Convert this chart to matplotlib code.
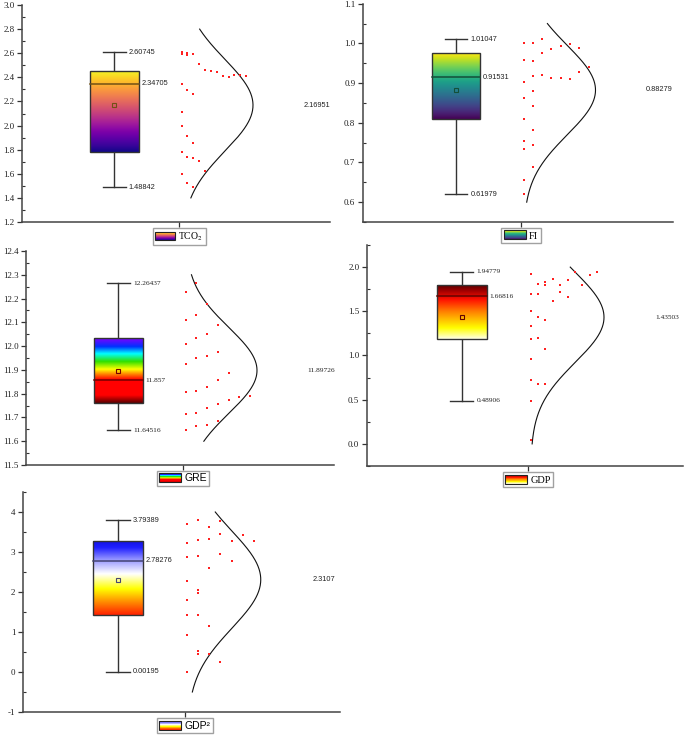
import numpy as np
import matplotlib
matplotlib.use('Agg')
import matplotlib.pyplot as plt
import matplotlib.colors as mcolors
from matplotlib.patches import Rectangle
from matplotlib.legend_handler import HandlerBase
from matplotlib.ticker import MultipleLocator, AutoMinorLocator, FormatStrFormatter

# valores em ordem dos dados (a ordem dentro de cada faixa define a coluna do ponto)
tco2_vals = [2.60745, 2.605,
             2.591, 2.585, 2.594, 2.513, 2.461, 2.455, 2.441, 2.408, 2.405, 2.422, 2.417, 2.414,
             2.345, 2.298, 2.265, 2.112, 1.994, 1.916, 1.853,
             1.783, 1.742, 1.734, 1.703, 1.626, 1.595, 1.526, 1.48842]
fi_vals = [1.002, 1.001, 1.01047,
           0.957, 0.955, 0.975, 0.985, 0.993, 0.998, 0.989,
           0.903, 0.918, 0.920, 0.914, 0.913, 0.911, 0.929, 0.941,
           0.863, 0.881, 0.809, 0.842, 0.755, 0.782, 0.733, 0.745, 0.656, 0.688, 0.61979]
gre_vals = [11.64516, 11.664, 11.669, 11.686,
            11.716, 11.718, 11.739, 11.757, 11.774, 11.784, 11.792,
            11.808, 11.811, 11.830, 11.857, 11.889,
            11.923, 11.949, 11.960, 11.974,
            12.009, 12.035, 12.049, 12.088,
            12.110, 12.130, 12.177, 12.228, 12.26437]
gdp_vals = [1.924, 1.811, 1.826, 1.860, 1.803, 1.853, 1.940, 1.803, 1.905, 1.94779,
            1.694, 1.694, 1.792, 1.611, 1.716, 1.664,
            1.505, 1.433, 1.402, 1.338, 1.187, 1.195, 1.074, 0.960,
            0.722, 0.673, 0.677, 0.48906, 0.042]
gdp2_vals = [3.700, 3.79389, 3.624, 3.783,
             3.215, 3.290, 3.332, 3.457, 3.265, 3.432, 3.265,
             2.881, 2.898, 2.598, 2.948, 2.781,
             2.280, 2.047, 1.788, 1.963,
             1.421, 1.437, 1.162, 0.928, 0.536,
             0.00195, 0.455, 0.450, 0.244]

# estatisticas da caixa: q1, q3, mediana, media, minimo, maximo
tco2_stats = [1.783, 2.455, 2.34705, 2.16951, 1.48842, 2.60745]
fi_stats = [0.809, 0.975, 0.91531, 0.88279, 0.61979, 1.01047]
gre_stats = [11.760, 12.033, 11.857, 11.89726, 11.64516, 12.26437]
gdp_stats = [1.183, 1.803, 1.66816, 1.43503, 0.48906, 1.94779]
gdp2_stats = [1.421, 3.282, 2.78276, 2.3107, 0.00195, 3.79389]

# faixas usadas para espalhar os pontos: inicio, largura, fim
tco2_bins = [1.4, 0.2, 2.8]
fi_bins = [0.6, 0.05, 1.05]
gre_bins = [11.6, 0.1, 12.3]
gdp_bins = [0.0, 0.2, 2.0]
gdp2_bins = [-0.5, 0.5, 4.0]

SERIF = 'Liberation Serif'
SANS = 'Liberation Sans'
W_PX, H_PX = 685, 736


def mapas_de_cor():
    plasma = plt.get_cmap('plasma')
    viridis = plt.get_cmap('viridis')
    arco = mcolors.LinearSegmentedColormap.from_list('arco', [
        (0.0, '#5a0000'), (0.12, '#ff0000'), (0.36, '#ff0000'), (0.45, '#ff8c00'),
        (0.52, '#ffff00'), (0.64, '#30e000'), (0.76, '#00ffff'), (0.87, '#0030ff'),
        (1.0, '#8000ff')])
    quente = mcolors.LinearSegmentedColormap.from_list('quente', [
        (0.0, '#ffffe8'), (0.2, '#ffff00'), (0.5, '#ff8000'), (0.72, '#ff1000'),
        (0.88, '#a00000'), (1.0, '#500000')])
    frio = mcolors.LinearSegmentedColormap.from_list('frio', [
        (0.0, '#ff2000'), (0.18, '#ff9000'), (0.35, '#ffff00'), (0.55, '#ffffff'),
        (0.75, '#9090ff'), (0.9, '#2020ff'), (1.0, '#1010e0')])
    return plasma, viridis, arco, quente, frio


class GradientHandler(HandlerBase):
    def __init__(self, cmap):
        super().__init__()
        self.cmap = cmap

    def create_artists(self, legend, orig_handle, xdescent, ydescent, width, height, fontsize, trans):
        arts = []
        n = 24
        for i in range(n):
            arts.append(Rectangle((-xdescent, -ydescent + height * i / n), width, height / n * 1.05,
                                  facecolor=self.cmap((i + 0.5) / n), edgecolor='none', transform=trans))
        arts.append(Rectangle((-xdescent, -ydescent), width, height, facecolor='none',
                              edgecolor='#222222', lw=0.8, transform=trans))
        return arts


def colunas(vals, inicio, largura):
    idx = np.floor((np.asarray(vals) - inicio) / largura + 1e-9).astype(int)
    cols = np.zeros(len(vals), int)
    cont = {}
    for i, b in enumerate(idx):
        cols[i] = cont.get(b, 0)
        cont[b] = cols[i] + 1
    return cols, max(cont.values())


def painel(fig, rect_px, p):
    l, t, r, b = rect_px
    ax = fig.add_axes([l / W_PX, 1 - b / H_PX, (r - l) / W_PX, (b - t) / H_PX])
    q1, q3, med, media, vmin, vmax = p['stats']
    cmap = p['cmap']
    xc, hw, cap = 0.30, 0.079, 0.037

    # caixa com gradiente
    grad = np.linspace(0, 1, 256).reshape(-1, 1)
    im = ax.imshow(grad, cmap=cmap, origin='lower', aspect='auto',
                   extent=[xc - hw, xc + hw, q1, q3], zorder=2)
    caixa = Rectangle((xc - hw, q1), 2 * hw, q3 - q1, facecolor='none',
                      edgecolor='#333333', lw=1.0, zorder=3)
    ax.add_patch(caixa)
    im.set_clip_path(caixa)
    tm = (med - q1) / (q3 - q1)
    cor_med = np.array(cmap(tm)[:3]) * 0.45
    ax.plot([xc - hw, xc + hw], [med, med], color=cor_med, lw=1.1, zorder=4)
    ax.plot([xc], [media], marker='s', ms=3.4, mfc='none', mec=cor_med, mew=0.8, zorder=5)

    # bigodes
    ax.plot([xc, xc], [q3, vmax], color='#333333', lw=1.0, zorder=1)
    ax.plot([xc, xc], [q1, vmin], color='#333333', lw=1.0, zorder=1)
    ax.plot([xc - cap, xc + cap], [vmax, vmax], color='#333333', lw=1.0)
    ax.plot([xc - cap, xc + cap], [vmin, vmin], color='#333333', lw=1.0)

    fn = p['font_anot']
    ax.text(xc + cap + 0.01, vmax, str(vmax), fontsize=5.3, family=fn, va='center', color='#222222')
    ax.text(xc + cap + 0.01, vmin, str(vmin), fontsize=5.3, family=fn, va='center', color='#222222')
    ax.text(xc + hw + 0.008, med, str(med), fontsize=5.3, family=fn, va='center', color='#222222')
    ax.text(0.913, media, str(media), fontsize=5.3, family=fn, va='center', color='#222222')

    # pontos espalhados por faixa
    vals = np.asarray(p['vals'])
    inicio, largura, fim = p['bins']
    cols, nmax = colunas(vals, inicio, largura)
    x0 = 0.518
    passo = 0.21 / (nmax - 1)
    ax.plot(x0 + cols * passo, vals, ls='none', marker='s', ms=1.9, mew=0,
            color='#ff2020', zorder=4)

    # curva normal
    mu, sd = vals.mean(), vals.std(ddof=1)
    yy = np.linspace(inicio, fim, 300)
    xx = x0 + 0.232 * np.exp(-(yy - mu) ** 2 / (2 * sd ** 2))
    ax.plot(xx, yy, color='#111111', lw=0.8, zorder=3)

    ax.set_xlim(0, 1)
    ax.set_ylim(*p['ylim'])
    ax.set_xticks([0.51])
    ax.set_xticklabels([])
    ax.yaxis.set_major_locator(MultipleLocator(p['passo']))
    ax.yaxis.set_major_formatter(FormatStrFormatter(p['fmt']))
    ax.yaxis.set_minor_locator(AutoMinorLocator(2))
    ax.tick_params(axis='both', which='major', direction='out', length=3.5, width=0.9,
                   color='#333333', labelsize=6.5, pad=2)
    ax.tick_params(axis='y', which='minor', direction='in', length=2, width=0.8, color='#333333')
    for lab in ax.get_yticklabels():
        lab.set_family(SERIF)
        lab.set_color('#222222')
    for s in ['top', 'right']:
        ax.spines[s].set_visible(False)
    for s in ['left', 'bottom']:
        ax.spines[s].set_color('#444444')
        ax.spines[s].set_linewidth(1.1)
    ax.set_facecolor('none')

    alca = Rectangle((0, 0), 1, 1)
    leg = ax.legend(handles=[alca], labels=[p['rotulo']], handler_map={alca: GradientHandler(cmap)},
                    loc='upper center', bbox_to_anchor=(0.51, -0.027), frameon=True, fancybox=False,
                    edgecolor='#8a8a8a', handlelength=2.1, handleheight=0.95, borderpad=0.25,
                    handletextpad=0.3, borderaxespad=0,
                    prop={'family': p['font_leg'], 'size': p['tam_leg']})
    leg.get_frame().set_linewidth(1.0)
    return ax


def main():
    plasma, viridis, arco, quente, frio = mapas_de_cor()
    paineis = [
        ((22, 5, 330, 222), dict(vals=tco2_vals, stats=tco2_stats, bins=tco2_bins, cmap=plasma,
                                 ylim=(1.2, 3.0), passo=0.2, fmt='%.1f', rotulo='TCO$_2$',
                                 font_anot=SANS, font_leg=SERIF, tam_leg=7)),
        ((363, 3.7, 673, 222), dict(vals=fi_vals, stats=fi_stats, bins=fi_bins, cmap=viridis,
                                    ylim=(0.55, 1.1), passo=0.1, fmt='%.1f', rotulo='FI',
                                    font_anot=SANS, font_leg=SERIF, tam_leg=7.5)),
        ((26, 251, 334, 465), dict(vals=gre_vals, stats=gre_stats, bins=gre_bins, cmap=arco,
                                   ylim=(11.5, 12.4), passo=0.1, fmt='%.1f', rotulo='GRE',
                                   font_anot=SERIF, font_leg=SANS, tam_leg=7.5)),
        ((367, 245, 683, 466), dict(vals=gdp_vals, stats=gdp_stats, bins=gdp_bins, cmap=quente,
                                    ylim=(-0.25, 2.25), passo=0.5, fmt='%.1f', rotulo='GDP',
                                    font_anot=SERIF, font_leg=SERIF, tam_leg=7.5)),
        ((23, 492, 340, 712), dict(vals=gdp2_vals, stats=gdp2_stats, bins=gdp2_bins, cmap=frio,
                                   ylim=(-1, 4.5), passo=1, fmt='%d', rotulo='GDP²',
                                   font_anot=SANS, font_leg=SANS, tam_leg=7.5)),
    ]
    plt.rcParams['mathtext.fontset'] = 'stix'
    fig = plt.figure(figsize=(W_PX / 100, H_PX / 100), dpi=100)
    for rect, p in paineis:
        painel(fig, rect, p)
    fig.savefig('out.png', dpi=100)


if __name__ == '__main__':
    main()
